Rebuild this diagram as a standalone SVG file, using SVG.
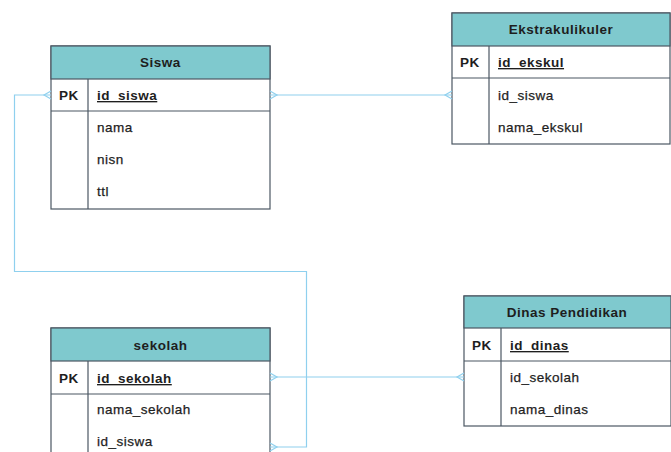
<svg xmlns="http://www.w3.org/2000/svg" width="671" height="452" viewBox="0 0 671 452">
  <style>
    .box { fill: #ffffff; stroke: #4b5763; stroke-width: 1.2; }
    .head { fill: #7fc9ce; stroke: #4b5763; stroke-width: 1.2; }
    .sep { stroke: #4b5763; stroke-width: 1.2; fill: none; }
    text { font-family: "Liberation Sans", Arial, sans-serif; font-size: 13.5px; letter-spacing: 0.5px; fill: #1e1e1e; }
    .title { font-weight: bold; text-anchor: middle; }
    .pk { font-weight: bold; }
    .key { font-weight: bold; text-decoration: underline; }
    .field { stroke: #1e1e1e; stroke-width: 0.25; }
    .link { stroke: #8fd0ee; stroke-width: 1.2; fill: none; }
  </style>
  <rect width="671" height="452" fill="#ffffff"/>

  <!-- Siswa -->
  <g id="siswa">
    <rect class="box" x="51" y="46" width="219" height="163"/>
    <rect class="head" x="51" y="46" width="219" height="33"/>
    <line class="sep" x1="51" y1="111" x2="270" y2="111"/>
    <line class="sep" x1="88" y1="79" x2="88" y2="209"/>
    <text class="title" x="160.5" y="67">Siswa</text>
    <text class="pk" x="59" y="100">PK</text>
    <text class="key" x="97" y="100">id_siswa</text>
    <text class="field" x="97" y="132">nama</text>
    <text class="field" x="97" y="164">nisn</text>
    <text class="field" x="97" y="196">ttl</text>
  </g>

  <!-- Ekstrakulikuler -->
  <g id="ekstrakulikuler">
    <rect class="box" x="452" y="13" width="218" height="131"/>
    <rect class="head" x="452" y="13" width="218" height="33"/>
    <line class="sep" x1="452" y1="78" x2="670" y2="78"/>
    <line class="sep" x1="489" y1="46" x2="489" y2="144"/>
    <text class="title" x="561" y="34">Ekstrakulikuler</text>
    <text class="pk" x="460" y="67">PK</text>
    <text class="key" x="498" y="67">id_ekskul</text>
    <text class="field" x="498" y="100">id_siswa</text>
    <text class="field" x="498" y="132">nama_ekskul</text>
  </g>

  <!-- sekolah -->
  <g id="sekolah">
    <rect class="box" x="51" y="328" width="219" height="132"/>
    <rect class="head" x="51" y="328" width="219" height="33"/>
    <line class="sep" x1="51" y1="394" x2="270" y2="394"/>
    <line class="sep" x1="88" y1="361" x2="88" y2="460"/>
    <text class="title" x="160.5" y="350">sekolah</text>
    <text class="pk" x="59" y="383">PK</text>
    <text class="key" x="97" y="383">id_sekolah</text>
    <text class="field" x="97" y="414">nama_sekolah</text>
    <text class="field" x="97" y="446">id_siswa</text>
  </g>

  <!-- Dinas Pendidikan -->
  <g id="dinas-pendidikan">
    <rect class="box" x="464" y="296" width="207" height="130"/>
    <rect class="head" x="464" y="296" width="207" height="32"/>
    <line class="sep" x1="464" y1="361" x2="671" y2="361"/>
    <line class="sep" x1="501" y1="328" x2="501" y2="426"/>
    <text class="title" x="567" y="317">Dinas Pendidikan</text>
    <text class="pk" x="472" y="350">PK</text>
    <text class="key" x="510" y="350">id_dinas</text>
    <text class="field" x="510" y="382">id_sekolah</text>
    <text class="field" x="510" y="414">nama_dinas</text>
  </g>

  <!-- connectors with crow's-foot ends -->
  <g id="connectors">
    <!-- Siswa.id_siswa to Ekstrakulikuler -->
    <path class="link" d="M270,95 H452"/>
    <path class="link" d="M270,91 L277,95 L270,99"/>
    <path class="link" d="M452,91 L445,95 L452,99"/>

    <!-- Siswa.id_siswa to sekolah.id_siswa -->
    <path class="link" d="M51,95 H14.5 V271.5 H306.5 V447 H270"/>
    <path class="link" d="M51,91 L44,95 L51,99"/>
    <path class="link" d="M270,443 L277,447 L270,451"/>

    <!-- sekolah.id_sekolah to Dinas Pendidikan -->
    <path class="link" d="M270,377 H464"/>
    <path class="link" d="M270,373 L277,377 L270,381"/>
    <path class="link" d="M464,373 L457,377 L464,381"/>
  </g>
</svg>
